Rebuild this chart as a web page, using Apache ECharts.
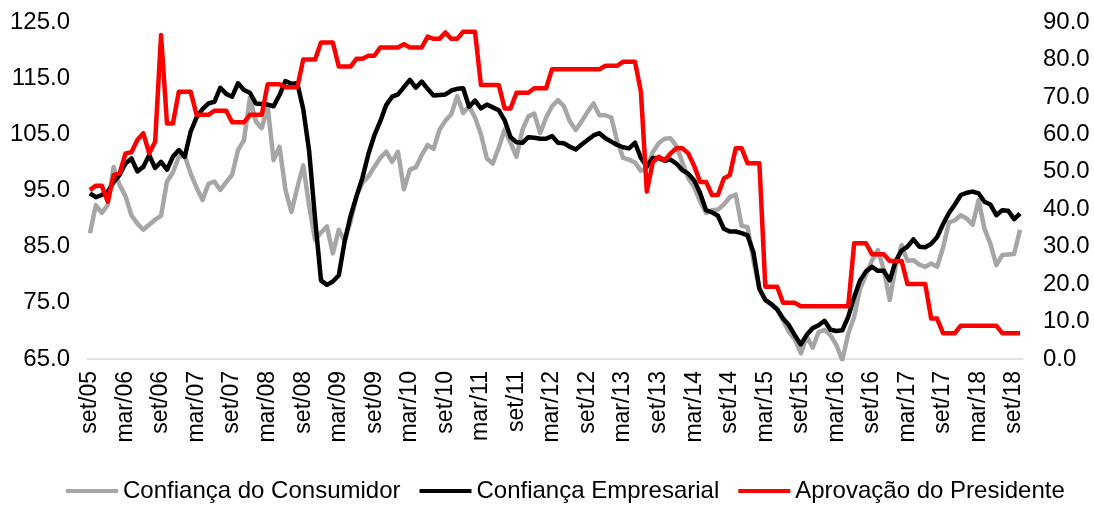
<!DOCTYPE html>
<html>
<head>
<meta charset="utf-8">
<script src="https://cdn.jsdelivr.net/npm/echarts@6/dist/echarts.min.js"></script>
<style>
html,body{margin:0;padding:0;background:#fff;}
#chart{width:1094px;height:505px;}
</style>
</head>
<body>
<div id="chart"></div>
<script>
const categories = [
'set/05','out/05','nov/05','dez/05',
'jan/06','fev/06','mar/06','abr/06','mai/06','jun/06','jul/06','ago/06','set/06','out/06','nov/06','dez/06',
'jan/07','fev/07','mar/07','abr/07','mai/07','jun/07','jul/07','ago/07','set/07','out/07','nov/07','dez/07',
'jan/08','fev/08','mar/08','abr/08','mai/08','jun/08','jul/08','ago/08','set/08','out/08','nov/08','dez/08',
'jan/09','fev/09','mar/09','abr/09','mai/09','jun/09','jul/09','ago/09','set/09','out/09','nov/09','dez/09',
'jan/10','fev/10','mar/10','abr/10','mai/10','jun/10','jul/10','ago/10','set/10','out/10','nov/10','dez/10',
'jan/11','fev/11','mar/11','abr/11','mai/11','jun/11','jul/11','ago/11','set/11','out/11','nov/11','dez/11',
'jan/12','fev/12','mar/12','abr/12','mai/12','jun/12','jul/12','ago/12','set/12','out/12','nov/12','dez/12',
'jan/13','fev/13','mar/13','abr/13','mai/13','jun/13','jul/13','ago/13','set/13','out/13','nov/13','dez/13',
'jan/14','fev/14','mar/14','abr/14','mai/14','jun/14','jul/14','ago/14','set/14','out/14','nov/14','dez/14',
'jan/15','fev/15','mar/15','abr/15','mai/15','jun/15','jul/15','ago/15','set/15','out/15','nov/15','dez/15',
'jan/16','fev/16','mar/16','abr/16','mai/16','jun/16','jul/16','ago/16','set/16','out/16','nov/16','dez/16',
'jan/17','fev/17','mar/17','abr/17','mai/17','jun/17','jul/17','ago/17','set/17','out/17','nov/17','dez/17',
'jan/18','fev/18','mar/18','abr/18','mai/18','jun/18','jul/18','ago/18','set/18','out/18'
];

const consumidor = [
87.4,92.4,91.0,92.4,99.2,96.0,94.0,90.6,89.1,88.0,
88.9,89.8,90.5,96.6,98.2,101.0,101.2,98.0,95.5,93.3,
96.2,96.6,95.1,96.5,97.8,102.2,104.0,111.5,107.3,106.1,
109.9,100.4,102.8,95.1,91.2,95.5,99.5,92.2,86.2,87.5,
88.6,83.8,88.0,86.0,89.5,94.0,96.4,97.5,99.2,100.8,
101.9,100.1,101.9,95.2,98.7,99.1,101.3,103.1,102.4,105.8,
107.4,108.6,111.8,108.8,110.0,108.0,105.0,100.7,99.8,102.6,
105.9,103.5,101.0,105.8,108.2,108.7,105.2,108.0,110.0,111.1,
110.0,107.3,105.8,107.3,109.0,110.5,108.4,108.4,108.0,103.8,
100.8,100.5,100.0,98.5,99.0,101.8,103.4,104.2,104.3,102.9,
100.0,97.2,95.6,93.0,91.0,91.5,91.6,92.5,93.8,94.3,
88.7,88.5,82.5,77.4,75.6,74.6,74.0,71.8,69.8,68.5,
66.0,69.0,67.0,69.8,70.2,69.2,67.5,64.8,69.5,72.5,
77.5,80.0,82.5,84.4,80.9,75.5,81.5,85.3,82.5,82.6,
81.8,81.4,82.0,81.4,84.8,89.3,89.7,90.6,90.0,88.9,
93.3,88.2,85.5,81.7,83.5,83.6,83.7,88.0
];

const empresarial = [
94.5,93.8,94.2,94.8,96.5,97.8,99.8,100.7,98.4,99.2,
101.3,99.0,100.1,98.7,101.0,102.2,101.0,105.5,108.0,109.5,
110.5,110.8,113.3,112.2,111.7,114.1,112.9,112.4,110.5,110.4,
110.3,110.0,112.0,114.5,114.0,114.1,109.5,102.0,90.0,79.0,
78.2,78.8,79.9,86.0,90.5,94.0,97.3,101.5,104.8,107.3,
110.2,111.7,112.1,113.4,114.7,113.3,114.4,113.1,111.9,112.0,
112.1,112.8,113.1,113.2,109.9,111.0,109.6,110.3,109.8,109.3,
107.5,104.5,103.6,103.5,104.5,104.4,104.2,104.2,104.7,103.5,
103.4,102.8,102.3,103.2,104.0,104.8,105.2,104.3,103.7,103.1,
102.7,102.5,103.5,100.8,99.3,100.8,100.8,100.3,100.5,99.8,
98.6,98.0,96.8,94.5,91.5,91.1,90.5,88.2,87.7,87.7,
87.4,87.0,84.0,77.5,75.5,74.8,73.8,72.2,71.0,69.2,
67.6,69.3,70.5,71.0,71.8,70.2,70.0,70.1,72.5,76.0,
79.0,80.6,81.4,80.7,80.7,79.0,82.4,84.3,85.0,86.3,
85.0,84.9,85.5,86.7,89.0,91.0,92.5,94.2,94.6,94.8,
94.5,93.0,92.5,90.6,91.5,91.4,89.9,90.9
];

const aprovacao = [
45.1,46.3,46.3,42.0,49.1,49.6,54.9,55.2,58.5,60.3,
54.9,58.0,86.5,62.9,62.9,71.4,71.4,71.4,65.2,65.2,
65.2,66.3,66.3,66.3,63.2,63.2,63.2,65.2,65.2,65.2,
73.4,73.4,73.4,72.6,72.6,72.6,80.0,80.0,80.0,84.5,
84.5,84.5,78.1,78.1,78.1,80.2,80.2,81.0,81.0,83.2,
83.2,83.2,83.2,84.1,83.2,83.2,83.2,86.1,85.5,85.5,
87.2,85.5,85.5,87.4,87.4,87.4,73.2,73.2,73.2,73.2,
66.9,66.9,71.1,71.1,71.1,72.3,72.3,72.3,77.4,77.4,
77.4,77.4,77.4,77.4,77.4,77.4,77.4,78.3,78.3,78.3,
79.4,79.4,79.4,71.4,44.7,52.5,54.0,53.1,54.9,56.3,
56.3,54.9,51.5,47.3,47.3,43.8,43.8,48.2,49.1,56.3,
56.3,52.3,52.3,52.3,19.3,19.3,19.3,15.0,15.0,15.0,
14.1,14.1,14.1,14.1,14.1,14.1,14.1,14.1,14.1,30.9,
30.9,30.9,28.0,28.0,28.0,26.2,26.2,26.2,20.0,20.0,
20.0,20.0,10.8,10.8,6.9,6.9,6.9,8.9,8.9,8.9,
8.9,8.9,8.9,8.9,6.9,6.9,6.9,6.9
];

const seriesNames = ['Confiança do Consumidor','Confiança Empresarial','Aprovação do Presidente'];
const seriesColors = ['#A6A6A6','#000000','#FF0000'];

const FONT = "'Liberation Sans', Arial, sans-serif";
const chart = echarts.init(document.getElementById('chart'), null, {renderer:'canvas'});

function lineSeries(idx, data, yAxisIndex){
  return {
    name: seriesNames[idx], type:'line', data: data, yAxisIndex: yAxisIndex,
    showSymbol:false, symbol:'none', smooth:false,
    lineStyle:{color:seriesColors[idx], width:4.5, join:'round'},
    itemStyle:{color:seriesColors[idx]},
    emphasis:{disabled:true}, animation:false
  };
}

chart.setOption({
  animation:false,
  backgroundColor:'#ffffff',
  grid:{left:87, right:71, top:22, bottom:146, containLabel:false},
  legend:{
    data:seriesNames, left:61, top:474, icon:'rect',
    itemWidth:52, itemHeight:4, itemGap:19,
    textStyle:{fontFamily:FONT, fontSize:24, color:'#000'}
  },
  xAxis:{
    type:'category', data:categories, boundaryGap:true,
    axisLine:{lineStyle:{color:'#D9D9D9', width:1.5}},
    axisTick:{interval:5, length:6, lineStyle:{color:'#D9D9D9', width:1.5}},
    axisLabel:{interval:5, rotate:90, margin:12, fontFamily:FONT, fontSize:23, color:'#000'},
    splitLine:{show:false}
  },
  yAxis:[
    {type:'value', min:65, max:125, interval:10, position:'left',
     axisLine:{show:false}, axisTick:{show:false}, splitLine:{show:false},
     axisLabel:{margin:17, fontFamily:FONT, fontSize:24, color:'#000', formatter:function(v){return v.toFixed(1);}}},
    {type:'value', min:0, max:90, interval:10, position:'right',
     axisLine:{show:false}, axisTick:{show:false}, splitLine:{show:false},
     axisLabel:{margin:20, fontFamily:FONT, fontSize:24, color:'#000', formatter:function(v){return v.toFixed(1);}}}
  ],
  series:[
    lineSeries(0, consumidor, 0),
    lineSeries(1, empresarial, 0),
    lineSeries(2, aprovacao, 1)
  ]
});
</script>
</body>
</html>
